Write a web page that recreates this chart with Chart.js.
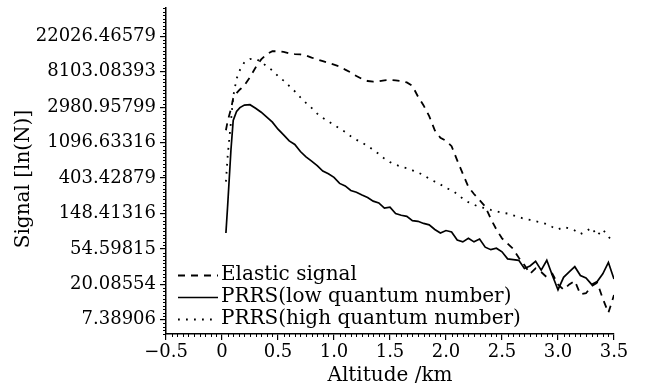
<!DOCTYPE html>
<html><head><meta charset="utf-8">
<script src="https://cdn.jsdelivr.net/npm/chart.js@4.4.1/dist/chart.umd.min.js"></script>
<style>html,body{margin:0;padding:0;background:#fff}#wrap{width:646px;height:390px}</style>
</head><body><div id="wrap"><canvas id="c" width="646" height="390"></canvas></div>
<script>
// Altitude (km)
const altitude = [0.035,0.05,0.08,0.10,0.13,0.16,0.20,0.25,0.30,
  0.35,0.40,0.45,0.50,0.55,0.60,0.65,0.70,0.75,0.80,0.85,0.90,0.95,1.00,
  1.05,1.10,1.15,1.20,1.25,1.30,1.35,1.40,1.45,1.50,1.55,1.60,1.65,1.70,
  1.75,1.80,1.85,1.90,1.95,2.00,2.05,2.10,2.15,2.20,2.25,2.30,2.35,2.40,
  2.45,2.50,2.55,2.60,2.65,2.70,2.75,2.80,2.85,2.90,2.95,3.00,3.05,3.10,
  3.15,3.20,3.25,3.30,3.35,3.40,3.45,3.50];
// ln(N) values
const elasticSignal = [7.35,7.6,7.95,8.25,8.4,8.5,8.62,8.85,9.12,
  9.35,9.5,9.58,9.58,9.56,9.52,9.5,9.49,9.46,9.4,9.35,9.3,9.25,9.2,
  9.15,9.06,8.98,8.88,8.8,8.74,8.72,8.73,8.76,8.77,8.76,8.74,8.7,8.6,
  8.3,8.05,7.75,7.35,7.14,7.05,6.9,6.5,6.12,5.75,5.55,5.38,5.2,4.85,
  4.55,4.3,4.15,4.0,3.75,3.55,3.3,3.45,3.35,3.2,3.3,3.0,2.85,3.0,
  3.1,2.72,2.75,2.95,3.05,2.6,2.2,2.7];
const prrsLow = [4.45,5.2,6.8,7.63,7.88,7.99,8.06,8.07,7.97,
  7.86,7.72,7.58,7.38,7.22,7.05,6.95,6.75,6.6,6.48,6.35,6.2,6.12,6.02,
  5.85,5.78,5.65,5.6,5.52,5.45,5.35,5.3,5.15,5.18,5.0,4.95,4.92,4.8,
  4.78,4.72,4.68,4.55,4.45,4.52,4.48,4.25,4.2,4.3,4.2,4.28,4.05,3.98,
  4.02,3.92,3.72,3.7,3.68,3.45,3.52,3.65,3.4,3.68,3.25,2.85,3.2,3.35,
  3.5,3.25,3.18,3.0,3.08,3.3,3.62,3.15];
const prrsHigh = [5.9,6.6,7.6,8.3,8.8,9.05,9.27,9.36,9.37,
  9.28,9.15,9.04,8.88,8.75,8.6,8.45,8.28,8.12,7.98,7.82,7.7,7.6,7.5,
  7.4,7.3,7.18,7.08,7.0,6.9,6.8,6.68,6.55,6.45,6.38,6.32,6.28,6.22,
  6.16,6.08,5.98,5.9,5.82,5.72,5.66,5.55,5.42,5.32,5.25,5.18,5.15,5.1,
  5.06,5.02,5.0,4.95,4.9,4.85,4.82,4.78,4.75,4.7,4.62,4.55,4.62,4.58,
  4.52,4.42,4.5,4.6,4.38,4.55,4.35,4.17];
const seriesNames = ['Elastic signal','PRRS(low quantum number)','PRRS(high quantum number)'];
const yTickValues = [2,3,4,5,6,7,8,9,10];
const yTickLabels = ['7.38906','20.08554','54.59815','148.41316','403.42879','1096.63316','2980.95799','8103.08393','22026.46579'];
const xTickValues = [-0.5,0,0.5,1.0,1.5,2.0,2.5,3.0,3.5];
const xTickLabels = ['\u22120.5','0','0.5','1.0','1.5','2.0','2.5','3.0','3.5'];
const yTitle = 'Signal [ln(N)]';
const xTitle = 'Altitude /km';

const pts = arr => altitude.map((x, i) => ({x: x, y: arr[i]}));
const FONT = 'DejaVu Serif';
Chart.defaults.font.family = FONT;
Chart.defaults.color = '#000';

const decor = {
  id: 'decor',
  afterDraw(chart) {
    const ctx = chart.ctx, a = chart.chartArea, xs = chart.scales.x, ys = chart.scales.y;
    ctx.save();
    ctx.strokeStyle = '#000';
    ctx.lineWidth = 1;
    for (let i = 16; i <= 108; i++) {
      if (i % 10 === 0) continue;
      const y = Math.round(ys.getPixelForValue(i / 10)) + 0.5;
      ctx.beginPath(); ctx.moveTo(a.left - 3, y); ctx.lineTo(a.left, y); ctx.stroke();
    }
    for (let i = -10; i <= 70; i++) {
      if (i % 10 === 0) continue;
      const x = Math.round(xs.getPixelForValue(i / 20)) + 0.5;
      ctx.beginPath(); ctx.moveTo(x, a.bottom); ctx.lineTo(x, a.bottom + 3); ctx.stroke();
    }
    // y-axis title
    ctx.save();
    ctx.translate(24, 179);
    ctx.rotate(-Math.PI / 2);
    ctx.font = '20px "' + FONT + '"';
    ctx.fillStyle = '#000';
    ctx.textAlign = 'center';
    ctx.textBaseline = 'middle';
    ctx.fillText(yTitle, 0, 0);
    ctx.restore();
    // legend (inside plot, lower-left)
    ctx.font = '20px "' + FONT + '"';
    ctx.fillStyle = '#000';
    ctx.textAlign = 'left';
    ctx.textBaseline = 'alphabetic';
    chart.data.datasets.forEach((ds, i) => {
      const base = 280 + i * 22;
      const ly = base - 4.5;
      ctx.save();
      ctx.lineWidth = ds.borderWidth;
      ctx.setLineDash(ds.borderDash || []);
      ctx.beginPath(); ctx.moveTo(178, ly); ctx.lineTo(218, ly); ctx.stroke();
      ctx.restore();
      ctx.fillText(ds.label, 221, base);
    });
    ctx.restore();
  }
};

new Chart(document.getElementById('c'), {
  type: 'line',
  data: {
    datasets: [
      {label: seriesNames[0], data: pts(elasticSignal), borderColor: '#000', borderWidth: 1.8, borderDash: [7, 6]},
      {label: seriesNames[1], data: pts(prrsLow), borderColor: '#000', borderWidth: 1.7},
      {label: seriesNames[2], data: pts(prrsHigh), borderColor: '#000', borderWidth: 1.8, borderDash: [1.8, 6.2]}
    ]
  },
  options: {
    responsive: false,
    animation: false,
    elements: {point: {radius: 0}, line: {tension: 0, fill: false, borderCapStyle: 'butt'}},
    layout: {padding: {top: 8, right: 32, left: 0, bottom: 0}},
    plugins: {legend: {display: false}, tooltip: {enabled: false}},
    scales: {
      x: {
        type: 'linear', min: -0.5, max: 3.5,
        afterFit: s => { s.height = 56; s.paddingLeft = 0; s.paddingRight = 0; },
        afterBuildTicks: s => { s.ticks = xTickValues.map(v => ({value: v})); },
        ticks: {autoSkip: false, maxRotation: 0, padding: 2, font: {size: 18},
          callback: (v) => { const k = xTickValues.findIndex(t => Math.abs(t - v) < 1e-9); return k >= 0 ? xTickLabels[k] : ''; }},
        grid: {display: true, drawOnChartArea: false, drawTicks: true, tickLength: 6, color: '#000', lineWidth: 1.2},
        border: {display: true, color: '#000', width: 1.5},
        title: {display: true, text: xTitle, font: {size: 20}, padding: {top: 0, bottom: 2}}
      },
      y: {
        type: 'linear', min: 1.6, max: 10.8,
        afterFit: s => { s.width = 166; s.paddingTop = 0; s.paddingBottom = 0; },
        afterBuildTicks: s => { s.ticks = yTickValues.map(v => ({value: v})); },
        ticks: {autoSkip: false, padding: 4, font: {size: 18},
          callback: (v) => { const k = yTickValues.indexOf(Math.round(v)); return k >= 0 ? yTickLabels[k] : ''; }},
        grid: {display: true, drawOnChartArea: false, drawTicks: true, tickLength: 6, color: '#000', lineWidth: 1.2},
        border: {display: true, color: '#000', width: 1.5},
        title: {display: false}
      }
    }
  },
  plugins: [decor]
});
</script>
</body></html>
